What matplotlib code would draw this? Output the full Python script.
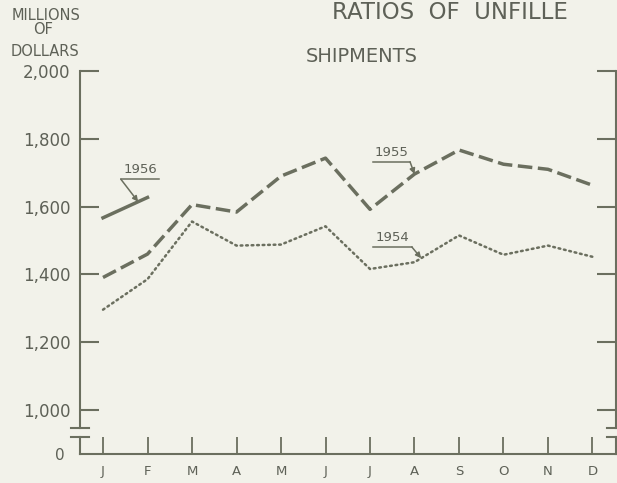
import numpy as np
import matplotlib
matplotlib.use('Agg')
import matplotlib.pyplot as plt

months = ['J', 'F', 'M', 'A', 'M', 'J', 'J', 'A', 'S', 'O', 'N', 'D']
ship_1954 = [1296, 1386, 1556, 1485, 1488, 1542, 1416, 1436, 1515, 1458, 1485, 1452]
ship_1955 = [1391, 1460, 1606, 1584, 1690, 1743, 1592, 1696, 1767, 1725, 1710, 1663]
ship_1956 = [1567, 1627]
y_ticks = [1000, 1200, 1400, 1600, 1800, 2000]
y_labels = ['1,000', '1,200', '1,400', '1,600', '1,800', '2,000']

bg = '#f2f2ea'
ink = '#6b6f5f'
txt = '#5e6157'

plt.rcParams['font.family'] = ['DejaVu Sans']

W, H = 617, 483
fig = plt.figure(figsize=(W / 100, H / 100), dpi=100, facecolor=bg)

def px(x0, y0, x1, y1):
    # pixel box -> figure fraction [left, bottom, width, height]
    return [x0 / W, 1 - y1 / H, (x1 - x0) / W, (y1 - y0) / H]

ax = fig.add_axes(px(80, 71, 615.5, 428))
axb = fig.add_axes(px(80, 437, 615.5, 454))

x = np.arange(len(months))
xlim = (-0.517, 11.517)

for a in (ax, axb):
    a.set_facecolor('none')
    a.set_xlim(*xlim)
    for s in a.spines.values():
        s.set_color(ink)
        s.set_linewidth(1.5)

# upper panel
ax.set_ylim(947, 2000)
ax.spines['top'].set_visible(False)
ax.spines['bottom'].set_visible(False)
ax.set_xticks([])
ax.set_yticks(y_ticks)
ax.set_yticklabels(y_labels)
ax.tick_params(axis='y', which='both', direction='in', length=14, width=1.5,
               color=ink, labelcolor=txt, labelsize=12, pad=7,
               left=True, right=True)

ax.plot(x, ship_1955, color=ink, lw=2.5, dashes=(4.2, 1.6), solid_capstyle='butt')
ax.plot(x, ship_1954, color=ink, lw=1.8, linestyle=(0, (0.7, 1.5)), dash_capstyle='round')
ax.plot(x[:len(ship_1956)], ship_1956, color=ink, lw=2.5)

# lower panel (zero line)
axb.set_ylim(0, 50)
axb.spines['top'].set_visible(False)
axb.set_yticks([0])
axb.set_yticklabels(['0'])
axb.tick_params(axis='y', length=0, labelcolor=txt, labelsize=11, pad=11)
axb.set_xticks(x)
axb.set_xticklabels(months)
axb.tick_params(axis='x', direction='in', length=12, width=1.3, color=ink,
                labelcolor=txt, labelsize=9.5, pad=8)

# break marks
d = 9 / 535.5
for a, yy in ((ax, 0), (axb, 1)):
    a.plot([-d, d], [yy, yy], transform=a.transAxes, color=ink, lw=1.5, clip_on=False)
    a.plot([1 - d, 1 + d], [yy, yy], transform=a.transAxes, color=ink, lw=1.5, clip_on=False)

# year labels with underline and leader arrow
def year_label(text, x0, x1, yline, tipx, series, start_left):
    ax.text((x0 + x1) / 2, yline + 9, text, ha='center', va='bottom',
            fontsize=9.5, color=txt)
    ax.plot([x0, x1], [yline, yline], color=ink, lw=1.1)
    sx = x0 if start_left else x1
    tipy = np.interp(tipx, x[:len(series)], series)
    ax.annotate('', xy=(tipx, tipy), xytext=(sx, yline),
                arrowprops=dict(arrowstyle='-|>', color=ink, lw=1.1,
                                mutation_scale=8, shrinkA=0, shrinkB=0))

year_label('1956', 0.40, 1.26, 1681, 0.79, ship_1956, True)
year_label('1955', 6.07, 6.90, 1732, 7.0, ship_1955, False)
year_label('1954', 6.07, 6.94, 1481, 7.15, ship_1954, False)

# headings
fig.text(46 / W, 1 - 15 / H, 'MILLIONS', ha='center', va='center', fontsize=10.5, color=txt)
fig.text(43 / W, 1 - 30 / H, 'OF', ha='center', va='center', fontsize=10.5, color=txt)
fig.text(45 / W, 1 - 51 / H, 'DOLLARS', ha='center', va='center', fontsize=10.5, color=txt)
fig.text(362 / W, 1 - 56 / H, 'SHIPMENTS', ha='center', va='center', fontsize=14, color=txt)
fig.text(332 / W, 1 - 19 / H, 'RATIOS  OF  UNFILLE', ha='left', va='baseline',
         fontsize=16.5, color=txt)

fig.savefig('out.png', dpi=100, facecolor=bg)
